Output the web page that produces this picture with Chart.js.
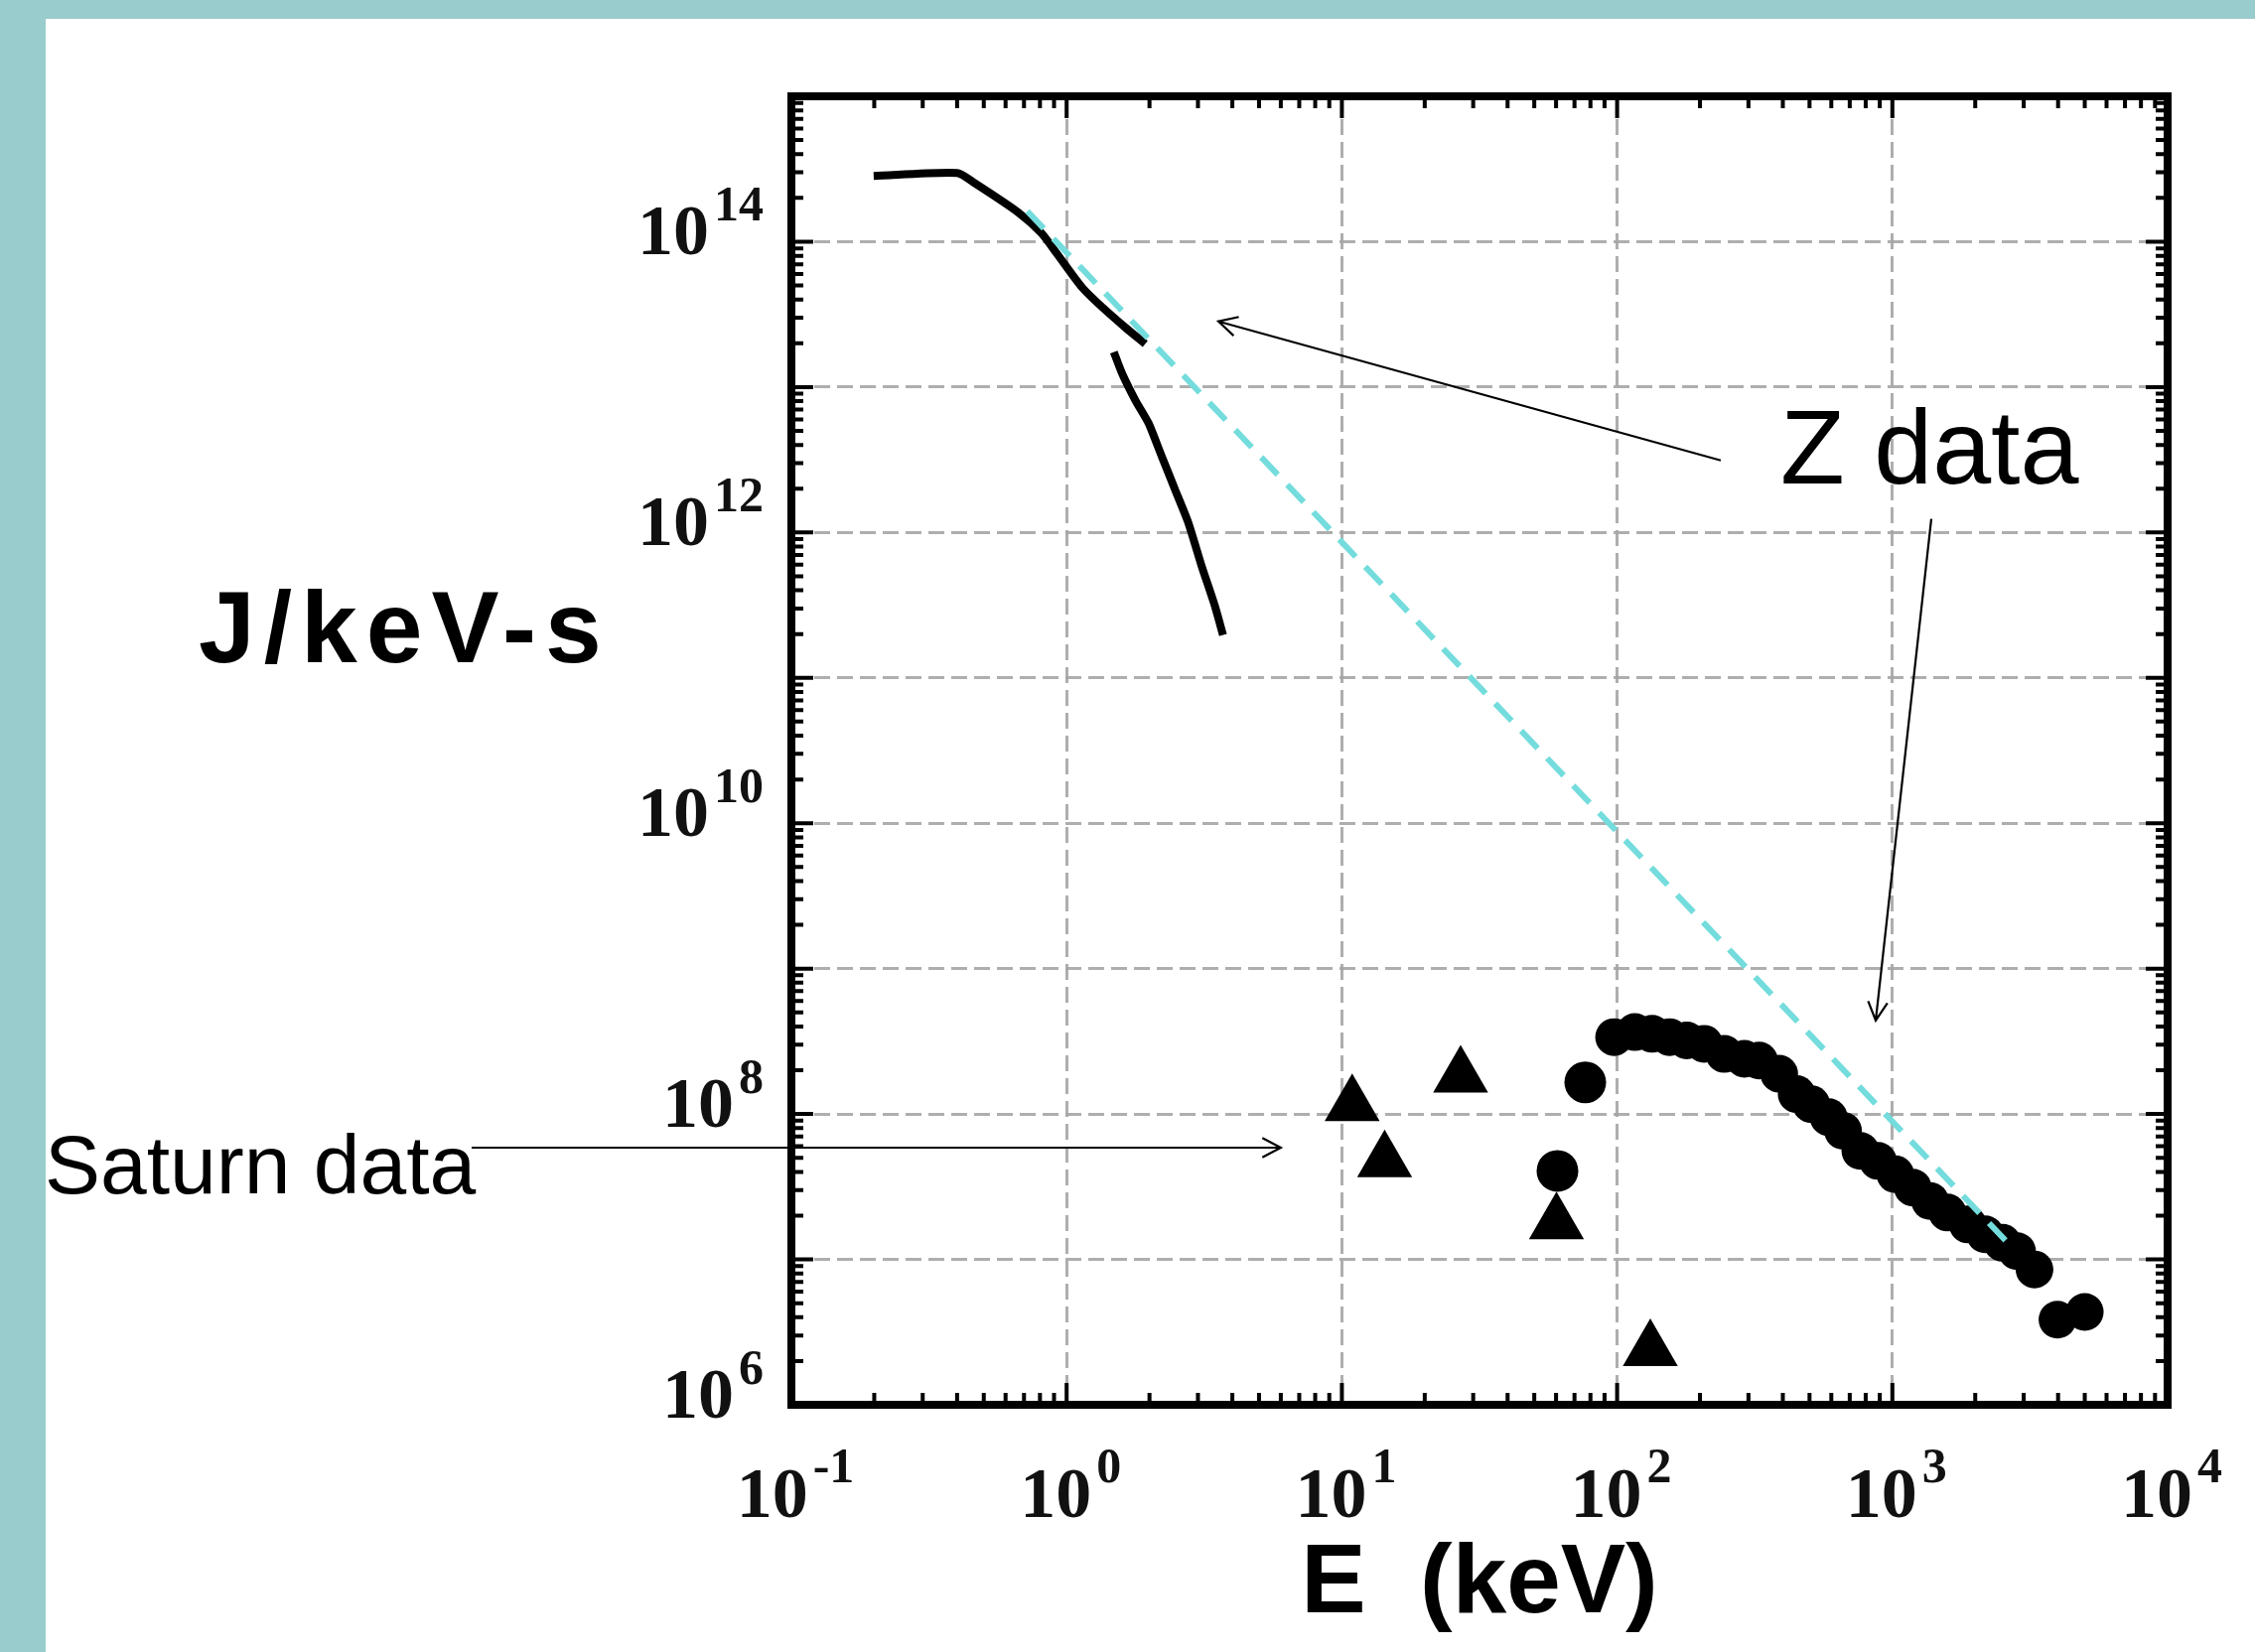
<!DOCTYPE html>
<html><head><meta charset="utf-8">
<script src="https://cdn.jsdelivr.net/npm/chart.js@4.4.1/dist/chart.umd.min.js"></script>
<style>
html,body{margin:0;padding:0;}
body{width:2271px;height:1664px;background:#99cccc;position:relative;overflow:hidden;font-family:"Liberation Sans",Arial,sans-serif;}
#panel{position:absolute;left:46px;top:19px;width:2225px;height:1645px;background:#fff;}
#c{position:absolute;left:0;top:0;}
.lbl{position:absolute;white-space:pre;color:#000;line-height:1;font-family:"Liberation Sans",Arial,sans-serif;}
</style></head><body>
<div id="panel"><canvas id="c" width="2225" height="1645"></canvas></div>
<div class="lbl" style="left:200px;top:581px;font-size:102px;font-weight:bold;letter-spacing:9px;">J/keV-s</div>
<div class="lbl" style="left:1793px;top:397px;font-size:106px;">Z data</div>
<div class="lbl" style="left:45px;top:1131px;font-size:84px;">Saturn data</div>
<script>
// ---- data (E in keV, J in J/keV-s) ----
const zSoftE1 = [0.199, 0.400, 0.457, 0.667, 0.808, 0.917, 1.14, 1.35, 1.63, 1.93];
const zSoftJ1 = [2.83e14, 2.97e14, 2.57e14, 1.59e14, 1.15e14, 8.4e13, 4.83e13, 3.53e13, 2.58e13, 1.98e13];
const zSoftE2 = [1.484, 1.59, 1.776, 1.985, 2.216, 2.475, 2.766, 3.09, 3.451, 3.70];
const zSoftJ2 = [1.74e13, 1.24e13, 8.13e12, 5.64e12, 3.33e12, 1.98e12, 1.17e12, 5.92e11, 3.15e11, 1.97e11];
const fitE = [0.72, 2780];
const fitJ = [1.62e14, 1.16e7];
const zHardE = [97.5,116,134,155,179,207,245,290,328,388,449,507,587,662,765,886,1025,1186,1371,1585,1879,2173,2512,2837,3283,3980,5000];
const zHardJ = [3.38e8,3.66e8,3.56e8,3.38e8,3.21e8,3.04e8,2.59e8,2.4e8,2.33e8,1.89e8,1.37e8,1.17e8,9.5e7,7.67e7,5.58e7,4.76e7,3.85e7,3.12e7,2.52e7,2.1e7,1.74e7,1.49e7,1.3e7,1.14e7,8.53e6,3.85e6,4.35e6];
const otherE = [76.6, 60.7];
const otherJ = [1.65e8, 4.06e7];
const saturnE = [10.9, 14.3, 27.0, 60.2, 132];
const saturnJ = [1.15e8, 4.72e7, 1.81e8, 1.77e7, 2.37e6];
// ---- axis ticks (exponents of 10) ----
const xTickExps = [-1, 0, 1, 2, 3, 4];
const xLabelExps = [-1, 0, 1, 2, 3, 4];
const yTickExps = [6, 7, 8, 9, 10, 11, 12, 13, 14, 15];
const yLabelExps = [6, 8, 10, 12, 14];
// ---- annotation arrows, in data coordinates [E, J] ----
const arrowFrom = [[238, 3.13e12], [1385, 1.24e12], [0.00689, 5.87e7]];
const arrowTo   = [[3.56, 2.83e13], [870, 4.4e8], [6.0, 5.87e7]];

function xy(E, J){ return E.map((e, i) => ({x: e, y: J[i]})); }
function expOf(v){ return Math.round(Math.log10(v)); }

const gridColor = 'rgba(165,165,165,0.9)';
function gridCol(ctx){
  const n = ctx.scale.ticks.length;
  return (ctx.index === 0 || ctx.index === n - 1) ? 'rgba(0,0,0,0)' : gridColor;
}

const BIG = 'bold 72px "Liberation Serif", "Times New Roman", serif';
const SMALL = 'bold 50px "Liberation Serif", "Times New Roman", serif';

// power-of-ten tick labels ("10" with raised exponent) placed at the scale's own ticks
const powLabelPlugin = {
  id: 'powLabels',
  afterDraw(chart){
    const {ctx, chartArea, scales: {x, y}} = chart;
    ctx.save();
    ctx.fillStyle = '#111';
    ctx.textBaseline = 'alphabetic';
    ctx.textAlign = 'left';
    const gap = 5;
    const measure = (e) => {
      ctx.font = BIG; const w1 = ctx.measureText('10').width;
      ctx.font = SMALL; const w2 = ctx.measureText(String(e)).width;
      return {w1, w2, total: w1 + gap + w2};
    };
    const draw = (e, left, base, rise, m) => {
      ctx.font = BIG; ctx.fillText('10', left, base);
      ctx.font = SMALL; ctx.fillText(String(e), left + m.w1 + gap, base - rise);
    };
    x.ticks.forEach(t => {
      const e = expOf(t.value);
      if (!xLabelExps.includes(e)) return;
      const m = measure(e);
      const px = x.getPixelForValue(t.value);
      draw(e, px - m.total / 2 + 4, chartArea.bottom + 113, 35, m);
    });
    y.ticks.forEach(t => {
      const e = expOf(t.value);
      if (!yLabelExps.includes(e)) return;
      const m = measure(e);
      const py = y.getPixelForValue(t.value);
      draw(e, chartArea.left - 28 - m.total, py + 13, 34, m);
    });
    ctx.restore();
  }
};

const framePlugin = {
  id: 'frame',
  afterDraw(chart){
    const {ctx, chartArea: {left, right, top, bottom}, scales: {x, y}} = chart;
    ctx.save();
    ctx.strokeStyle = '#000';
    ctx.lineCap = 'butt';
    const mk = (s) => {
      const out = [];
      const lo = Math.floor(Math.log10(s.min)), hi = Math.ceil(Math.log10(s.max));
      for (let e = lo; e <= hi; e++) for (let m = 1; m <= 9; m++) {
        const v = m * Math.pow(10, e);
        if (v >= s.min * 0.999 && v <= s.max * 1.001) out.push({v, major: m === 1});
      }
      return out;
    };
    ctx.lineWidth = 4;
    mk(x).forEach(t => {
      const px = x.getPixelForValue(t.v), L = t.major ? 22 : 12;
      ctx.beginPath();
      ctx.moveTo(px, bottom); ctx.lineTo(px, bottom - L);
      ctx.moveTo(px, top); ctx.lineTo(px, top + L);
      ctx.stroke();
    });
    mk(y).forEach(t => {
      const py = y.getPixelForValue(t.v), L = t.major ? 22 : 12;
      ctx.beginPath();
      ctx.moveTo(left, py); ctx.lineTo(left + L, py);
      ctx.moveTo(right, py); ctx.lineTo(right - L, py);
      ctx.stroke();
    });
    ctx.lineWidth = 8;
    ctx.strokeRect(left, top, right - left, bottom - top);
    // arrows
    ctx.lineWidth = 2.2;
    ctx.lineJoin = 'miter';
    arrowFrom.forEach((f, i) => {
      const t = arrowTo[i];
      const x1 = x.getPixelForValue(f[0]), y1 = y.getPixelForValue(f[1]);
      const x2 = x.getPixelForValue(t[0]), y2 = y.getPixelForValue(t[1]);
      const a = Math.atan2(y1 - y2, x1 - x2);
      const h = 21, sp = Math.PI / 6.5;
      ctx.beginPath();
      ctx.moveTo(x1, y1); ctx.lineTo(x2, y2);
      ctx.moveTo(x2 + h * Math.cos(a - sp), y2 + h * Math.sin(a - sp));
      ctx.lineTo(x2, y2);
      ctx.lineTo(x2 + h * Math.cos(a + sp), y2 + h * Math.sin(a + sp));
      ctx.stroke();
    });
    ctx.restore();
  }
};

Chart.defaults.font.family = '"Liberation Sans", Arial, sans-serif';
Chart.defaults.color = '#000';

new Chart(document.getElementById('c'), {
  type: 'scatter',
  data: {
    datasets: [
      {label: 'Fit', data: xy(fitE, fitJ), showLine: true, borderColor: 'rgb(116,220,220)', borderWidth: 6, borderDash: [24, 14], pointRadius: 0, fill: false},
      {label: 'Z soft x-ray A', data: xy(zSoftE1, zSoftJ1), showLine: true, borderColor: '#000', borderWidth: 8, tension: 0.25, pointRadius: 0, fill: false},
      {label: 'Z soft x-ray B', data: xy(zSoftE2, zSoftJ2), showLine: true, borderColor: '#000', borderWidth: 8, tension: 0.2, pointRadius: 0, fill: false},
      {label: 'Z hard x-ray', data: xy(zHardE, zHardJ), showLine: false, pointStyle: 'circle', pointRadius: 19, pointBackgroundColor: '#000', pointBorderWidth: 0},
      {label: 'Other', data: xy(otherE, otherJ), showLine: false, pointStyle: 'circle', pointRadius: 21, pointBackgroundColor: '#000', pointBorderWidth: 0},
      {label: 'Saturn', data: xy(saturnE, saturnJ), showLine: false, pointStyle: 'triangle', pointRadius: 32, pointBackgroundColor: '#000', pointBorderWidth: 0}
    ]
  },
  options: {
    responsive: false,
    animation: false,
    devicePixelRatio: 1,
    layout: {padding: {left: 0, right: 88, top: 78, bottom: 0}},
    plugins: {legend: {display: false}, tooltip: {enabled: false}},
    scales: {
      x: {
        type: 'logarithmic', position: 'bottom', min: 0.1, max: 10000,
        afterBuildTicks: (s) => { s.ticks = xTickExps.map(e => ({value: Math.pow(10, e), major: true})); },
        afterFit: (s) => { s.height = 249; },
        ticks: {display: false, autoSkip: false, maxRotation: 0},
        grid: {drawTicks: false, color: gridCol, lineWidth: 3},
        border: {display: false, dash: [16, 7]},
        title: {display: true, text: 'E  (keV)', color: '#000', padding: {top: 0, bottom: 8},
          font: {family: '"Liberation Sans", Arial, sans-serif', size: 98, weight: 'bold'}}
      },
      y: {
        type: 'logarithmic', position: 'left', min: 1e6, max: 1e15,
        afterBuildTicks: (s) => { s.ticks = yTickExps.map(e => ({value: Math.pow(10, e), major: true})); },
        afterFit: (s) => { s.width = 751; },
        ticks: {display: false, autoSkip: false},
        grid: {drawTicks: false, color: gridCol, lineWidth: 3},
        border: {display: false, dash: [16, 7]}
      }
    }
  },
  plugins: [framePlugin, powLabelPlugin]
});
</script>
</body></html>
